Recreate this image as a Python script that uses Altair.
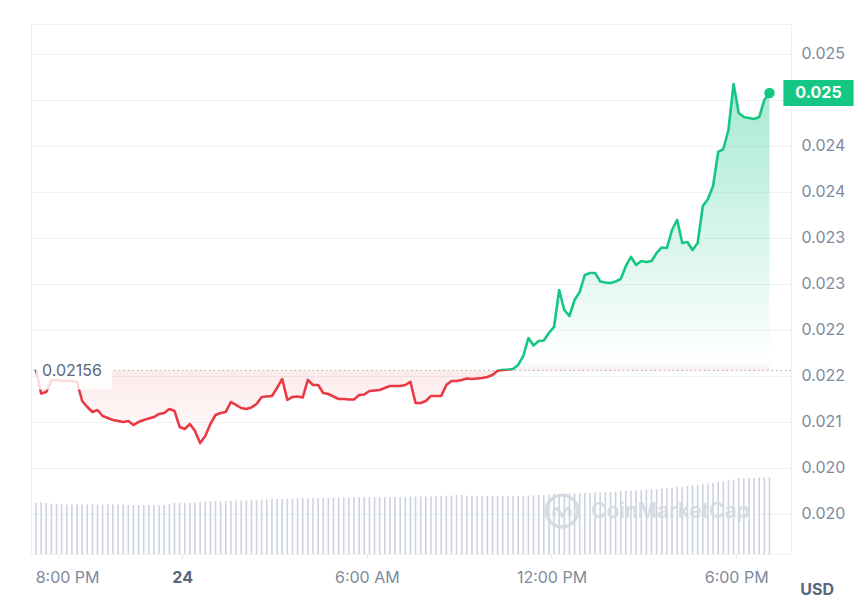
import altair as alt
import pandas as pd

# ---------------- data ----------------
DAY0 = "2024-05-23 00:00"          # hours are counted from this midnight
START = "2024-05-23 19:15"
STEP = "10min"
X_DOMAIN_HOURS = [19.25, 43.62]

PRICE = [
    0.021560, 0.021310, 0.021326, 0.021451, 0.021457, 0.021446, 0.021446, 0.021446, 0.021435, 0.021228,
    0.021163, 0.021109, 0.021130, 0.021065, 0.021043, 0.021022, 0.021011, 0.021000, 0.021011, 0.020967,
    0.021000, 0.021022, 0.021038, 0.021054, 0.021087, 0.021098, 0.021141, 0.021120, 0.020946, 0.020924,
    0.020978, 0.020902, 0.020772, 0.020848, 0.020978, 0.021076, 0.021098, 0.021109, 0.021217, 0.021185,
    0.021152, 0.021141, 0.021158, 0.021196, 0.021272, 0.021277, 0.021283, 0.021370, 0.021467, 0.021239,
    0.021272, 0.021277, 0.021266, 0.021457, 0.021402, 0.021402, 0.021315, 0.021304, 0.021277, 0.021250,
    0.021250, 0.021245, 0.021245, 0.021293, 0.021299, 0.021337, 0.021342, 0.021348, 0.021370, 0.021391,
    0.021391, 0.021391, 0.021402, 0.021435, 0.021207, 0.021207, 0.021228, 0.021283, 0.021283, 0.021283,
    0.021402, 0.021446, 0.021446, 0.021457, 0.021473, 0.021467, 0.021473, 0.021478, 0.021489, 0.021511,
    0.021558, 0.021566, 0.021570, 0.021576, 0.021620, 0.021717, 0.021913, 0.021832, 0.021880, 0.021886,
    0.021967, 0.022033, 0.022435, 0.022217, 0.022152, 0.022326, 0.022413, 0.022598, 0.022620, 0.022620,
    0.022527, 0.022516, 0.022511, 0.022527, 0.022554, 0.022696, 0.022794, 0.022707, 0.022750, 0.022739,
    0.022750, 0.022837, 0.022897, 0.022891, 0.023087, 0.023196, 0.022946, 0.022957, 0.022870, 0.022946,
    0.023348, 0.023424, 0.023565, 0.023935, 0.023967, 0.024174, 0.024674, 0.024359, 0.024315, 0.024304,
    0.024293, 0.024315, 0.024500, 0.024576,
]

VOLUME = [
    5.10, 5.15, 5.10, 5.05, 5.00, 4.95, 4.95, 4.95, 4.95, 4.95,
    4.95, 4.95, 4.95, 4.95, 4.95, 4.95, 4.95, 4.95, 4.90, 4.90,
    4.90, 4.90, 4.90, 4.90, 4.90, 4.90, 4.95, 5.10, 5.10, 5.10,
    5.10, 5.15, 5.20, 5.25, 5.30, 5.30, 5.30, 5.30, 5.30, 5.35,
    5.35, 5.35, 5.40, 5.40, 5.45, 5.45, 5.50, 5.50, 5.50, 5.55,
    5.55, 5.55, 5.60, 5.60, 5.60, 5.60, 5.60, 5.60, 5.65, 5.65,
    5.65, 5.65, 5.65, 5.70, 5.70, 5.70, 5.70, 5.70, 5.70, 5.70,
    5.70, 5.70, 5.75, 5.75, 5.75, 5.75, 5.75, 5.75, 5.80, 5.80,
    5.85, 5.85, 5.90, 5.90, 5.85, 5.80, 5.80, 5.80, 5.80, 5.80,
    5.80, 5.80, 5.80, 5.80, 5.80, 5.80, 5.85, 5.85, 5.90, 5.90,
    5.95, 6.00, 6.00, 6.00, 6.05, 6.05, 6.10, 6.10, 6.10, 6.15,
    6.15, 6.20, 6.20, 6.25, 6.30, 6.30, 6.35, 6.40, 6.40, 6.45,
    6.50, 6.50, 6.55, 6.60, 6.60, 6.70, 6.70, 6.80, 6.90, 6.90,
    7.00, 7.05, 7.10, 7.20, 7.30, 7.35, 7.45, 7.60, 7.60, 7.60,
    7.60, 7.65, 7.65, 7.65,
]

Y_DOMAIN = [0.019565, 0.025326]
Y_TICKS = [0.0200, 0.0205, 0.0210, 0.0215, 0.0220, 0.0225, 0.0230, 0.0235, 0.0240, 0.0245, 0.0250]
# the 0.0245 label is hidden under the current-price box in the reference
Y_TICK_LABELS = ["0.020", "0.020", "0.021", "0.022", "0.022", "0.023", "0.023", "0.024", "0.024", "", "0.025"]
VOL_DOMAIN = [0, 53.0]

X_TICKS = [20, 24, 30, 36, 42]      # hours since DAY0
X_TICK_LABELS = ["8:00 PM", "24", "6:00 AM", "12:00 PM", "6:00 PM"]
UNIT_LABEL = "USD"
WATERMARK = "CoinMarketCap"

GREEN = "#16c784"
RED = "#ea3943"
LABEL_GREY = "#808a9d"
DARK_GREY = "#58667e"
GRID = "#eff2f5"
FONT = "Inter"

# ---------------- derived ----------------
times = pd.date_range(START, periods=len(PRICE), freq=STEP)
hours = (times - pd.Timestamp(DAY0)) / pd.Timedelta(hours=1)
df = pd.DataFrame({"hour": hours, "price": PRICE, "volume": VOLUME})

baseline = PRICE[0]
pmax, pmin = max(PRICE), min(PRICE)
frac = (pmax - baseline) / (pmax - pmin)

first = df.iloc[[0]].assign(label=f"{PRICE[0]:.5f}")
last = df.iloc[[-1]].assign(label=f"{PRICE[-1]:.3f}")

x_scale = alt.Scale(domain=X_DOMAIN_HOURS, nice=False, zero=False)
y_scale = alt.Scale(domain=Y_DOMAIN, zero=False, nice=False)

x_label_expr = "".join(
    f"datum.value == {h} ? '{l}' : " for h, l in zip(X_TICKS, X_TICK_LABELS)
) + "''"
bold_tick = X_TICKS[1]
first_tick = X_TICKS[0]

y_label_expr = "".join(
    f"format(datum.value, '.4f') == '{v:.4f}' ? '{l}' : " for v, l in zip(Y_TICKS, Y_TICK_LABELS)
) + "''"

x_axis = alt.Axis(
    values=X_TICKS,
    labelExpr=x_label_expr,
    labelFont=FONT,
    labelFontSize=16,
    labelColor={"condition": {"test": f"datum.value == {bold_tick}", "value": DARK_GREY}, "value": LABEL_GREY},
    labelFontWeight={"condition": {"test": f"datum.value == {bold_tick}", "value": "bold"}, "value": "normal"},
    labelOffset={"condition": {"test": f"datum.value == {first_tick}", "value": 8}, "value": 0},
    labelPadding=11,
    tickSize=4,
    tickColor="#e3e7ee",
    domainColor=GRID,
    grid=False,
    title=None,
)

y_axis = alt.Axis(
    orient="right",
    values=Y_TICKS,
    labelExpr=y_label_expr,
    labelFont=FONT,
    labelFontSize=16,
    labelColor=LABEL_GREY,
    labelPadding=10,
    ticks=False,
    domain=False,
    grid=True,
    gridColor=GRID,
    title=None,
)

# every layer carries the identical x axis so the shared axis merges cleanly
X = alt.X("hour:Q", scale=x_scale, axis=x_axis)
Y = alt.Y("price:Q", scale=y_scale, axis=None)

line_grad = {
    "gradient": "linear", "x1": 0, "y1": 0, "x2": 0, "y2": 1,
    "stops": [
        {"offset": 0, "color": GREEN},
        {"offset": frac, "color": GREEN},
        {"offset": frac, "color": RED},
        {"offset": 1, "color": RED},
    ],
}
fill_grad = {
    "gradient": "linear", "x1": 0, "y1": 0, "x2": 0, "y2": 1,
    "stops": [
        {"offset": 0, "color": "rgba(22,199,132,0.38)"},
        {"offset": frac * 0.97, "color": "rgba(22,199,132,0.0)"},
        {"offset": frac, "color": "rgba(234,57,67,0.10)"},
        {"offset": 1, "color": "rgba(234,57,67,0.02)"},
    ],
}

BOX_PATH = ("M-1.22,-0.5 H1.22 Q1.36,-0.5 1.36,-0.36 V0.36 Q1.36,0.5 1.22,0.5 "
            "H-1.22 Q-1.36,0.5 -1.36,0.36 V-0.36 Q-1.36,-0.5 -1.22,-0.5 Z")
PRICE_BOX_PATH = "M-1.35,-0.5 H1.35 V0.5 H-1.35 Z"
LOGO_M = "M-0.6,0.35 L-0.6,-0.1 Q-0.45,-0.45 -0.25,-0.1 L0,0.3 L0.25,-0.1 Q0.45,-0.45 0.6,-0.1 L0.6,0.35"

# ---------------- layers ----------------
vol = alt.Chart(df).mark_bar(size=1.6, color="#cdd3de").encode(
    x=X,
    y=alt.Y("volume:Q", scale=alt.Scale(domain=VOL_DOMAIN, nice=False, zero=True), axis=None),
)

area = alt.Chart(df).mark_area(fill=fill_grad, opacity=1, interpolate="linear").encode(
    x=X,
    y=alt.Y("price:Q", scale=y_scale, axis=y_axis),
    y2=alt.datum(baseline),
)

base_rule = alt.Chart(first).mark_rule(color="#a6aebb", strokeWidth=1, strokeDash=[1.5, 3]).encode(y=Y)

line = alt.Chart(df).mark_line(stroke=line_grad, strokeWidth=2.6, strokeJoin="round", strokeCap="round").encode(x=X, y=Y)

# white translucent box behind the opening-price label (76 x 28 px)
start_box = alt.Chart(first).mark_point(
    shape=BOX_PATH, size=3136, filled=True, fill="white", opacity=0.82, strokeWidth=0,
    xOffset=38, yOffset=5, clip=False
).encode(x=X, y=Y)
start_text = alt.Chart(first).mark_text(
    font=FONT, fontSize=16, color=DARK_GREY, align="left", baseline="middle", dx=6, dy=1
).encode(x=X, y=Y, text="label:N")

dot = alt.Chart(last).mark_point(filled=True, size=110, color=GREEN, opacity=1).encode(x=X, y=Y)
price_box = alt.Chart(last).mark_point(
    shape=PRICE_BOX_PATH, size=2704, filled=True, fill=GREEN, opacity=1, strokeWidth=0,
    xOffset=49, clip=False
).encode(x=X, y=Y)
price_text = alt.Chart(last).mark_text(
    font=FONT, fontSize=16, fontWeight="bold", color="white", align="center", baseline="middle", dx=49, dy=0.5
).encode(x=X, y=Y, text="label:N")

wm_df = pd.DataFrame({"t": [WATERMARK]})
wm_text = alt.Chart(wm_df).mark_text(
    font=FONT, fontSize=21, fontWeight=600, color="#d3d9e3", align="left", baseline="middle", opacity=0.9
).encode(text="t:N", x=alt.value(560), y=alt.value(488))
wm_circle = alt.Chart(wm_df).mark_point(
    shape="circle", size=1000, filled=False, color="#d3d9e3", strokeWidth=3.5, opacity=0.9
).encode(x=alt.value(531), y=alt.value(487))
wm_m = alt.Chart(wm_df).mark_point(
    shape=LOGO_M, size=700, filled=False, color="#d3d9e3", strokeWidth=3, opacity=0.9
).encode(x=alt.value(531), y=alt.value(488))

unit_df = pd.DataFrame({"t": [UNIT_LABEL]})
unit_text = alt.Chart(unit_df).mark_text(
    font=FONT, fontSize=16, fontWeight="bold", color=DARK_GREY, align="right", baseline="middle", clip=False
).encode(text="t:N", x=alt.value(803), y=alt.value(566))

chart = alt.layer(
    vol, wm_circle, wm_m, wm_text, area, base_rule, line, start_box, start_text, dot, price_box, price_text,
    unit_text,
).resolve_scale(
    y="independent"
).properties(
    width=760, height=530,
    padding={"left": 22, "top": 16, "right": 2, "bottom": 2},
    background="white",
).configure_view(stroke="#eceff3", strokeWidth=1)

chart.save("out.html", embed_options={"renderer": "svg", "actions": False})
